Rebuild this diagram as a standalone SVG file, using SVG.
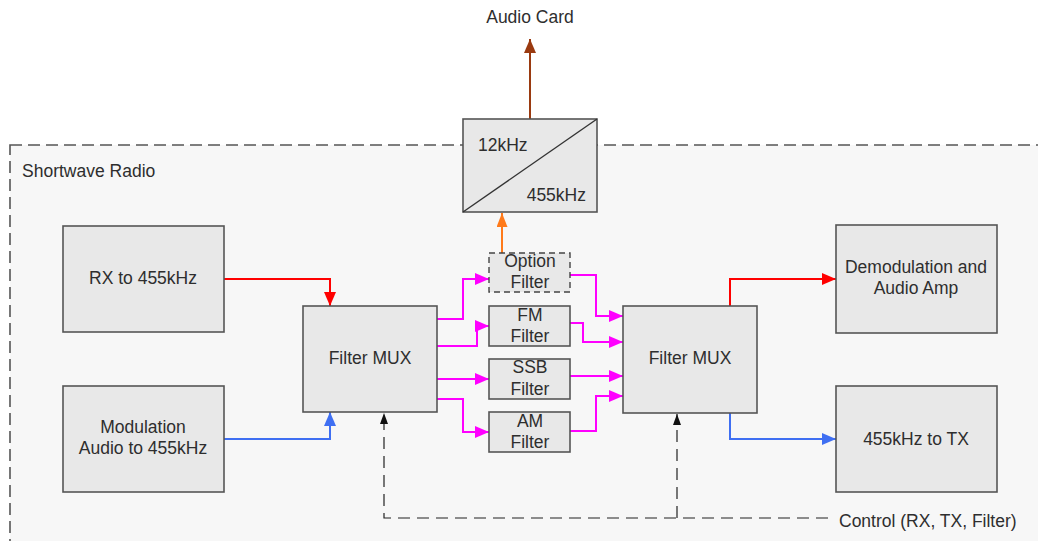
<svg xmlns="http://www.w3.org/2000/svg" width="1038" height="541" viewBox="0 0 1038 541">
<style>
text{font-family:"Liberation Sans",Arial,sans-serif;font-size:17.5px;fill:#2e2e2e;}
.c{text-anchor:middle;}
.box{fill:#e8e8e8;stroke:#555;stroke-width:1.6;}
.mag{stroke:#ff00ff;stroke-width:2;fill:none;}
</style>
<defs>
<marker id="aMag" viewBox="0 0 14 12" markerWidth="14" markerHeight="12" markerUnits="userSpaceOnUse" refX="14" refY="6" orient="auto"><path d="M0,0 L14,6 L0,12 z" fill="#ff00ff"/></marker>
<marker id="aRed" viewBox="0 0 14 12" markerWidth="14" markerHeight="12" markerUnits="userSpaceOnUse" refX="14" refY="6" orient="auto"><path d="M0,0 L14,6 L0,12 z" fill="#ff0000"/></marker>
<marker id="aBlue" viewBox="0 0 14 12" markerWidth="14" markerHeight="12" markerUnits="userSpaceOnUse" refX="14" refY="6" orient="auto"><path d="M0,0 L14,6 L0,12 z" fill="#3f6ff2"/></marker>
<marker id="aOrg" viewBox="0 0 14 11" markerWidth="14" markerHeight="11" markerUnits="userSpaceOnUse" refX="14" refY="5.5" orient="auto"><path d="M0,0 L14,5.5 L0,11 z" fill="#ff7a1a"/></marker>
<marker id="aBrn" viewBox="0 0 14 12" markerWidth="14" markerHeight="12" markerUnits="userSpaceOnUse" refX="14" refY="6" orient="auto"><path d="M0,0 L14,6 L0,12 z" fill="#9a3a10"/></marker>
<marker id="aBlk" viewBox="0 0 11 8" markerWidth="11" markerHeight="8" markerUnits="userSpaceOnUse" refX="11" refY="4" orient="auto"><path d="M0,0 L11,4 L0,8 z" fill="#111"/></marker>
</defs>
<rect width="1038" height="541" fill="#fff"/>
<g id="frame">
<rect x="10" y="145" width="1060" height="430" fill="#f7f7f7" stroke="#555" stroke-width="1.6" stroke-dasharray="12 6"/>
<text x="22" y="177">Shortwave Radio</text>
</g>
<g id="connectors">
<path d="M224,279 H330 V306" stroke="#ff0000" stroke-width="2" fill="none" marker-end="url(#aRed)"/>
<path d="M224,439 H330 V412" stroke="#3f6ff2" stroke-width="2" fill="none" marker-end="url(#aBlue)"/>
<path class="mag" d="M437,319 H463 V279 H489" marker-end="url(#aMag)"/>
<path class="mag" d="M437,346 H477 V326 H489" marker-end="url(#aMag)"/>
<path class="mag" d="M437,379 H489" marker-end="url(#aMag)"/>
<path class="mag" d="M437,399 H463 V432 H489" marker-end="url(#aMag)"/>
<path class="mag" d="M570,275 H596 V316 H623" marker-end="url(#aMag)"/>
<path class="mag" d="M570,323 H583 V342 H623" marker-end="url(#aMag)"/>
<path class="mag" d="M570,376 H623" marker-end="url(#aMag)"/>
<path class="mag" d="M570,431 H596 V396 H623" marker-end="url(#aMag)"/>
<path d="M730,306 V279 H836" stroke="#ff0000" stroke-width="2" fill="none" marker-end="url(#aRed)"/>
<path d="M730,413 V439 H836" stroke="#3f6ff2" stroke-width="2" fill="none" marker-end="url(#aBlue)"/>
<path d="M489,275 H502 V213" stroke="#ff7a1a" stroke-width="2" fill="none" marker-end="url(#aOrg)"/>
<path d="M530,119 V39" stroke="#9a3a10" stroke-width="2" fill="none" marker-end="url(#aBrn)"/>
<path d="M828,518 H384 V413" stroke="#222" stroke-width="1.2" fill="none" stroke-dasharray="12 7" marker-end="url(#aBlk)"/>
<path d="M677,518 V414" stroke="#222" stroke-width="1.2" fill="none" stroke-dasharray="12 7" marker-end="url(#aBlk)"/>
</g>
<g id="converter">
<rect class="box" x="463" y="119" width="134" height="93"/>
<line x1="463" y1="212" x2="597" y2="119" stroke="#333" stroke-width="1.4"/>
<text x="478" y="151">12kHz</text>
<text x="586" y="201" text-anchor="end">455kHz</text>
</g>
<g id="rx"><rect class="box" x="63" y="226" width="161" height="106"/><text class="c" x="143" y="284">RX to 455kHz</text></g>
<g id="mod"><rect class="box" x="63" y="386" width="161" height="106"/><text class="c" x="143" y="433">Modulation</text><text class="c" x="143" y="454">Audio to 455kHz</text></g>
<g id="muxL"><rect class="box" x="303" y="306" width="134" height="106"/><text class="c" x="370" y="364">Filter MUX</text></g>
<g id="muxR"><rect class="box" x="623" y="306" width="134" height="107"/><text class="c" x="690" y="364">Filter MUX</text></g>
<g id="optFilter"><rect x="489" y="253" width="81" height="39" fill="#e8e8e8" stroke="#444" stroke-width="1.4" stroke-dasharray="6 4"/><text class="c" x="530" y="267">Option</text><text class="c" x="530" y="288">Filter</text></g>
<g id="fmFilter"><rect class="box" x="489" y="306" width="81" height="40"/><text class="c" x="530" y="321">FM</text><text class="c" x="530" y="342">Filter</text></g>
<g id="ssbFilter"><rect class="box" x="489" y="359" width="81" height="40"/><text class="c" x="530" y="373">SSB</text><text class="c" x="530" y="395">Filter</text></g>
<g id="amFilter"><rect class="box" x="489" y="412" width="81" height="40"/><text class="c" x="530" y="427">AM</text><text class="c" x="530" y="448">Filter</text></g>
<g id="demod"><rect class="box" x="836" y="225" width="161" height="108"/><text class="c" x="916" y="273">Demodulation and</text><text class="c" x="916" y="294">Audio Amp</text></g>
<g id="tx"><rect class="box" x="836" y="386" width="161" height="106"/><text class="c" x="916" y="445">455kHz to TX</text></g>
<g id="labels">
<text class="c" x="530" y="23">Audio Card</text>
<text x="839" y="527">Control (RX, TX, Filter)</text>
</g>
</svg>
